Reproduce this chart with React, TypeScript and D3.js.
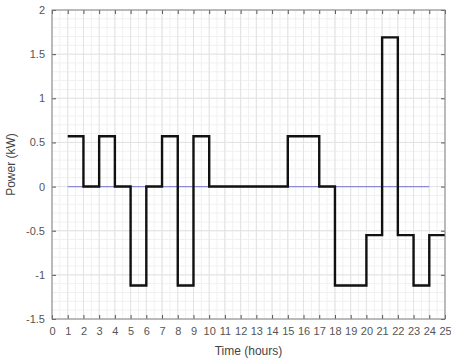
import React, { useEffect, useRef } from 'react';
import * as d3 from 'd3';

// step start hours and power for each hour slot (kW)
const hours = [1, 2, 3, 4, 5, 6, 7, 8, 9, 10, 11, 12, 13, 14, 15, 16, 17, 18, 19, 20, 21, 22, 23, 24, 25];
const power = [0.57, 0, 0.57, 0, -1.12, 0, 0.57, -1.12, 0.57, 0, 0, 0, 0, 0, 0.57, 0.57, 0, -1.12, -1.12, -0.55, 1.69, -0.55, -1.12, -0.55, -0.55];
const xTicks = d3.range(0, 26);
const yTicks = [-1.5, -1, -0.5, 0, 0.5, 1, 1.5, 2];
const refLine = [1, 24];

const W = 451;
const H = 364;

const App = () => {
  const svgRef = useRef<SVGSVGElement>(null);

  useEffect(() => {
    const svg = d3.select(svgRef.current);
    svg.selectAll('*').remove();

    const margin = { top: 10, right: 6, bottom: 45, left: 52 };
    const width = W - margin.left - margin.right;
    const height = H - margin.top - margin.bottom;

    const x = d3.scaleLinear().domain([0, 25]).range([0, width]);
    const y = d3.scaleLinear().domain([-1.5, 2]).range([height, 0]);

    const g = svg.append('g').attr('transform', `translate(${margin.left},${margin.top})`);

    // minor grid
    g.append('g')
      .selectAll('line')
      .data(d3.range(0, 25.01, 0.5))
      .enter()
      .append('line')
      .attr('x1', d => x(d))
      .attr('x2', d => x(d))
      .attr('y1', 0)
      .attr('y2', height)
      .attr('stroke', '#f0f0f0')
      .attr('stroke-width', 1);
    g.append('g')
      .selectAll('line')
      .data(d3.range(-1.5, 2.001, 0.1))
      .enter()
      .append('line')
      .attr('x1', 0)
      .attr('x2', width)
      .attr('y1', d => y(d))
      .attr('y2', d => y(d))
      .attr('stroke', '#f0f0f0')
      .attr('stroke-width', 1);

    // major grid
    g.append('g')
      .selectAll('line')
      .data(xTicks)
      .enter()
      .append('line')
      .attr('x1', d => x(d))
      .attr('x2', d => x(d))
      .attr('y1', 0)
      .attr('y2', height)
      .attr('stroke', '#e3e3e3');
    g.append('g')
      .selectAll('line')
      .data(yTicks)
      .enter()
      .append('line')
      .attr('x1', 0)
      .attr('x2', width)
      .attr('y1', d => y(d))
      .attr('y2', d => y(d))
      .attr('stroke', '#e3e3e3');

    // zero reference line
    g.append('line')
      .attr('x1', x(refLine[0]))
      .attr('x2', x(refLine[1]))
      .attr('y1', y(0))
      .attr('y2', y(0))
      .attr('stroke', '#8a8ad6')
      .attr('stroke-width', 1.2);

    // step line
    const line = d3.line<number>()
      .x((d, i) => x(hours[i]))
      .y(d => y(d))
      .curve(d3.curveStepAfter);
    g.append('path')
      .datum(power)
      .attr('d', line)
      .attr('fill', 'none')
      .attr('stroke', '#111')
      .attr('stroke-width', 2.4);

    // axes with inward ticks
    const styleAxis = (sel: any) => {
      sel.select('.domain').remove();
      sel.selectAll('.tick line').attr('stroke', '#555');
      sel.selectAll('.tick text')
        .style('font-family', 'Liberation Sans, Arial, sans-serif')
        .style('font-size', '11px')
        .attr('fill', '#555');
    };

    g.append('g')
      .attr('transform', `translate(0,${height})`)
      .call(d3.axisBottom(x).tickValues(xTicks).tickSize(-4).tickPadding(8).tickFormat(d3.format('d')))
      .call(styleAxis);
    g.append('g')
      .call(d3.axisTop(x).tickValues(xTicks).tickSize(-4).tickFormat(() => ''))
      .call(styleAxis);
    g.append('g')
      .call(d3.axisLeft(y).tickValues(yTicks).tickSize(-4).tickPadding(7).tickFormat(d => String(d)))
      .call(styleAxis);
    g.append('g')
      .attr('transform', `translate(${width},0)`)
      .call(d3.axisRight(y).tickValues(yTicks).tickSize(-4).tickFormat(() => ''))
      .call(styleAxis);

    // box
    g.append('rect')
      .attr('x', 0)
      .attr('y', 0)
      .attr('width', width)
      .attr('height', height)
      .attr('fill', 'none')
      .attr('stroke', '#888');

    g.append('text')
      .attr('x', width / 2)
      .attr('y', height + 36)
      .attr('text-anchor', 'middle')
      .style('font-family', 'Liberation Sans, Arial, sans-serif')
      .style('font-size', '12px')
      .attr('fill', '#444')
      .text('Time (hours)');

    g.append('text')
      .attr('transform', `translate(${-37},${height / 2}) rotate(-90)`)
      .attr('text-anchor', 'middle')
      .style('font-family', 'Liberation Sans, Arial, sans-serif')
      .style('font-size', '12px')
      .attr('fill', '#444')
      .text('Power (kW)');
  }, []);

  return (
    <svg
      ref={svgRef}
      width={W}
      height={H}
      style={{ position: 'absolute', left: 0, top: 0, background: '#fff' }}
    />
  );
};

export default App;
